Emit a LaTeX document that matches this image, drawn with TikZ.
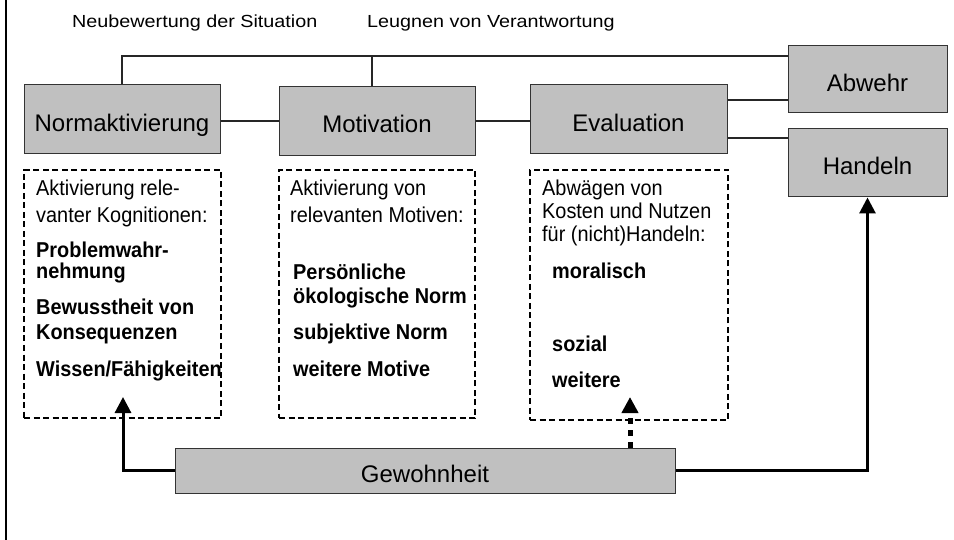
\documentclass[tikz,border=0pt]{standalone}
\usepackage{fontspec}
\setmainfont{Liberation Sans}
\newfontfamily\headfont{Liberation Sans}[FakeStretch=1.13]
\newfontfamily\listfont{Liberation Sans}[FakeStretch=0.925]
\usetikzlibrary{positioning, arrows.meta}

\definecolor{boxgray}{RGB}{192,192,192}
\tikzset{
  stage/.style={draw=black!80, line width=1pt, fill=boxgray, minimum width=196pt,
    minimum height=69pt, inner sep=0pt, text height=23.6pt, text depth=0pt,
    font=\fontsize{24}{28}\selectfont},
  dbox/.style={draw, line width=1.5pt, dash pattern=on 6pt off 3.5pt, inner sep=0pt},
  head/.style={anchor=base west, inner sep=0pt, font=\headfont\fontsize{17.5}{21}\selectfont},
  txt/.style={anchor=base west, inner sep=0pt, font=\listfont\fontsize{21.5}{25}\selectfont},
  btxt/.style={txt, font=\listfont\fontsize{21.5}{25}\selectfont\bfseries},
  link/.style={line width=1.2pt, draw=black!85},
  habit/.style={line width=3pt, line join=miter, -{Triangle[length=16pt,width=16pt]}},
  habitdash/.style={habit, line width=5pt, dash pattern=on 6pt off 6pt}
}

\begin{document}
\begin{tikzpicture}[x=1pt,y=-1pt]
\useasboundingbox (0,0) rectangle (954,540);
\draw[line width=2pt] (6,0) -- (6,540);

% headline labels
\node[head] (neu) at (72,27.5) {Neubewertung der Situation};
\node[head] (leug) at (367,27.5) {Leugnen von Verantwortung};

% stages
\node[stage] (norm) at (122,119.5) {Normaktivierung};
\node[stage] (motiv) at (377,121) {Motivation};
\node[stage, minimum width=197pt] (eval) at (628.5,119.5) {Evaluation};
\node[stage, minimum width=159pt, minimum height=67pt] (abwehr) at (867.5,79.5) {Abwehr};
\node[stage, minimum width=159pt, minimum height=68pt] (handeln) at (867.5,163) {Handeln};
\node[stage, minimum width=500pt, minimum height=45pt] (gewohn) at (425,470.5) {Gewohnheit};

% dashed boxes
\node[dbox, minimum width=197pt, minimum height=248pt] (normd) at (122.5,294) {};
\node[dbox, minimum width=196pt, minimum height=248pt] (motivd) at (377,294) {};
\node[dbox, minimum width=198pt, minimum height=250pt] (evald) at (629,295) {};

% Normaktivierung
\node[txt] (na1) at (36,196) {Aktivierung rele-};
\node[txt] (na2) at (36,223) {vanter Kognitionen:};
\node[btxt] (na3) at (36,258) {Problemwahr-};
\node[btxt] (na4) at (36,279) {nehmung};
\node[btxt] (na5) at (36,315) {Bewusstheit von};
\node[btxt] (na6) at (36,339) {Konsequenzen};
\node[btxt] (na7) at (36,377) {Wissen/Fähigkeiten};

% Motivation
\node[txt] (mo1) at (290,196) {Aktivierung von};
\node[txt] (mo2) at (290,223) {relevanten Motiven:};
\node[btxt] (mo3) at (293,280) {Persönliche};
\node[btxt] (mo4) at (293,304) {ökologische Norm};
\node[btxt] (mo5) at (293,340) {subjektive Norm};
\node[btxt] (mo6) at (293,377) {weitere Motive};

% Evaluation
\node[txt] (ev1) at (542,196) {Abwägen von};
\node[txt] (ev2) at (542,219) {Kosten und Nutzen};
\node[txt] (ev3) at (542,242) {für (nicht)Handeln:};
\node[btxt] (ev4) at (552,279) {moralisch};
\node[btxt] (ev5) at (552,352) {sozial};
\node[btxt] (ev6) at (552,387) {weitere};

% connections
\coordinate (topline) at (0,56);
\draw[link] (norm.north) |- (topline -| abwehr.west);
\draw[link] ([xshift=-5pt]motiv.north) -- ([xshift=-5pt]motiv.north |- topline);
\draw[link] (motiv.west) -- (motiv.west -| norm.east);
\draw[link] (motiv.east) -- (motiv.east -| eval.west);
\draw[link] ([yshift=19.5pt]eval.east) -- ([yshift=19.5pt]eval.east -| abwehr.west);
\draw[link] ([yshift=-18.5pt]eval.east) -- ([yshift=-18.5pt]eval.east -| handeln.west);

% habit
\coordinate (normtip) at (123,397);
\coordinate (evaltip) at (630,397);
\draw[habit] (gewohn.west) -| (normtip);
\draw[habit] (gewohn.east) -| (handeln.south);
\draw[habitdash] (gewohn.north -| evaltip) -- (evaltip);
\end{tikzpicture}
\end{document}
